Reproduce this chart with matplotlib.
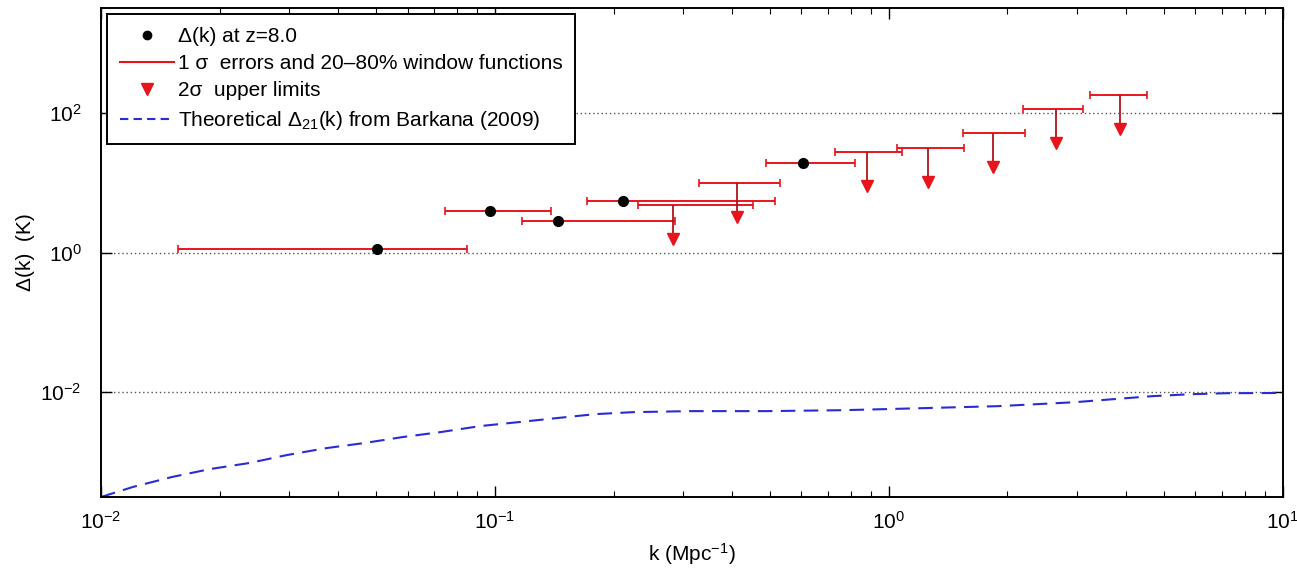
import numpy as np
import matplotlib
matplotlib.use("Agg")
import matplotlib.pyplot as plt
from matplotlib.lines import Line2D
from matplotlib.ticker import FixedLocator, LogLocator, NullLocator

plt.rcParams["font.family"] = ["Liberation Sans", "DejaVu Sans"]
plt.rcParams["mathtext.fontset"] = "custom"
plt.rcParams["mathtext.rm"] = "Liberation Sans"
plt.rcParams["mathtext.it"] = "Liberation Sans:italic"

# Detections: k (Mpc^-1), Delta(k) (K) and 20-80% window function range
k_det = np.array([0.0502, 0.0971, 0.1445, 0.2113, 0.605])
delta_det = np.array([1.14, 3.98, 2.87, 5.53, 19.3])
k_det_lo = np.array([0.0157, 0.0746, 0.1171, 0.1712, 0.4875])
k_det_hi = np.array([0.0849, 0.1387, 0.2863, 0.5137, 0.820])

# 2-sigma upper limits
k_ul = np.array([0.283, 0.411, 0.879, 1.256, 1.836, 2.654, 3.857])
delta_ul = np.array([4.85, 10.0, 27.7, 31.6, 51.8, 114.0, 181.0])
k_ul_lo = np.array([0.2306, 0.3295, 0.7295, 1.048, 1.541, 2.188, 3.236])
k_ul_hi = np.array([0.4517, 0.529, 1.079, 1.549, 2.214, 3.108, 4.517])

# Theoretical Delta_21(k), Barkana (2009)
k_th = np.array([0.0100, 0.01205, 0.01514, 0.01892, 0.02377, 0.02965, 0.03724,
                 0.04656, 0.05834, 0.07295, 0.09162, 0.1143, 0.1436, 0.1795,
                 0.2239, 0.3141, 0.4898, 0.7691, 1.205, 1.892, 2.965, 3.707,
                 4.656, 5.808, 7.244, 10.0])
delta_th = np.array([3.16e-4, 4.40e-4, 6.11e-4, 7.94e-4, 9.68e-4, 1.26e-3, 1.58e-3,
                     1.87e-3, 2.28e-3, 2.69e-3, 3.27e-3, 3.72e-3, 4.26e-3, 4.85e-3,
                     5.18e-3, 5.36e-3, 5.36e-3, 5.53e-3, 5.90e-3, 6.31e-3, 7.19e-3,
                     7.94e-3, 8.77e-3, 9.35e-3, 9.68e-3, 9.75e-3])

RED = "#e8141c"
BLUE = "#2b2bd6"
ARROW = 3.06  # length of upper-limit arrows (factor in Delta)

fig = plt.figure(figsize=(12.97, 5.75), dpi=100)
ax = fig.add_axes([0.0779, 0.1357, 0.9111, 0.8503])

ax.set_xscale("log")
ax.set_yscale("log")
ax.set_xlim(1e-2, 1e1)
ax.set_ylim(10**-3.5, 10**3.5)

for yv in [1e-2, 1e0, 1e2]:
    ax.axhline(yv, color="#555555", ls=(0, (1, 2)), lw=1.0, zorder=0)

# theory curve
ax.plot(k_th, delta_th, color=BLUE, ls=(0, (7, 4)), lw=1.5, zorder=2)

# detections with window-function bars
ax.errorbar(k_det, delta_det,
            xerr=[k_det - k_det_lo, k_det_hi - k_det],
            fmt="none", ecolor=RED, elinewidth=1.4, capsize=3, capthick=1.2, zorder=3)
ax.plot(k_det, delta_det, "o", color="black", ms=7, zorder=4)

# upper limits: bar, stem and downward triangle
ax.errorbar(k_ul, delta_ul,
            xerr=[k_ul - k_ul_lo, k_ul_hi - k_ul],
            fmt="none", ecolor=RED, elinewidth=1.4, capsize=3, capthick=1.2, zorder=3)
ax.vlines(k_ul, delta_ul / ARROW, delta_ul, color="#b0141c", lw=1.3, zorder=3)
ax.plot(k_ul, delta_ul / ARROW, "v", color=RED, ms=9, zorder=4)

ax.xaxis.set_major_locator(LogLocator(base=10, numticks=10))
ax.xaxis.set_minor_locator(LogLocator(base=10, subs=np.arange(2, 10), numticks=20))
ax.yaxis.set_major_locator(FixedLocator([1e-2, 1e0, 1e2]))
ax.yaxis.set_minor_locator(NullLocator())
ax.tick_params(which="both", direction="in", top=True, right=True, labelsize=15)
ax.tick_params(which="major", length=8, width=1.0)
ax.tick_params(which="minor", length=4.5, width=0.8)
ax.tick_params(axis="x", which="major", pad=10)
ax.tick_params(axis="y", which="major", pad=14)
for s in ax.spines.values():
    s.set_linewidth(1.4)

ax.set_xlabel("k (Mpc$^{-1}$)", fontsize=15, labelpad=6)
ax.set_ylabel("Δ(k)  (K)", fontsize=15, labelpad=4)

handles = [
    Line2D([], [], marker="o", color="black", ls="none", ms=6),
    Line2D([], [], color=RED, lw=1.5),
    Line2D([], [], marker="v", color=RED, ls="none", ms=9),
    Line2D([], [], color=BLUE, ls=(0, (4, 2.5)), lw=1.5),
]
labels = [
    "Δ(k) at z=8.0",
    "1 σ  errors and 20–80% window functions",
    "2σ  upper limits",
    "Theoretical Δ$_{21}$(k) from Barkana (2009)",
]
leg = ax.legend(handles, labels, loc="upper left", fontsize=15, fancybox=False,
                framealpha=1, edgecolor="black", borderaxespad=0.3,
                handlelength=2.6, handletextpad=0.2, labelspacing=0.4,
                borderpad=0.6)
leg.get_frame().set_linewidth(1.4)

fig.savefig("out.png", dpi=100)
